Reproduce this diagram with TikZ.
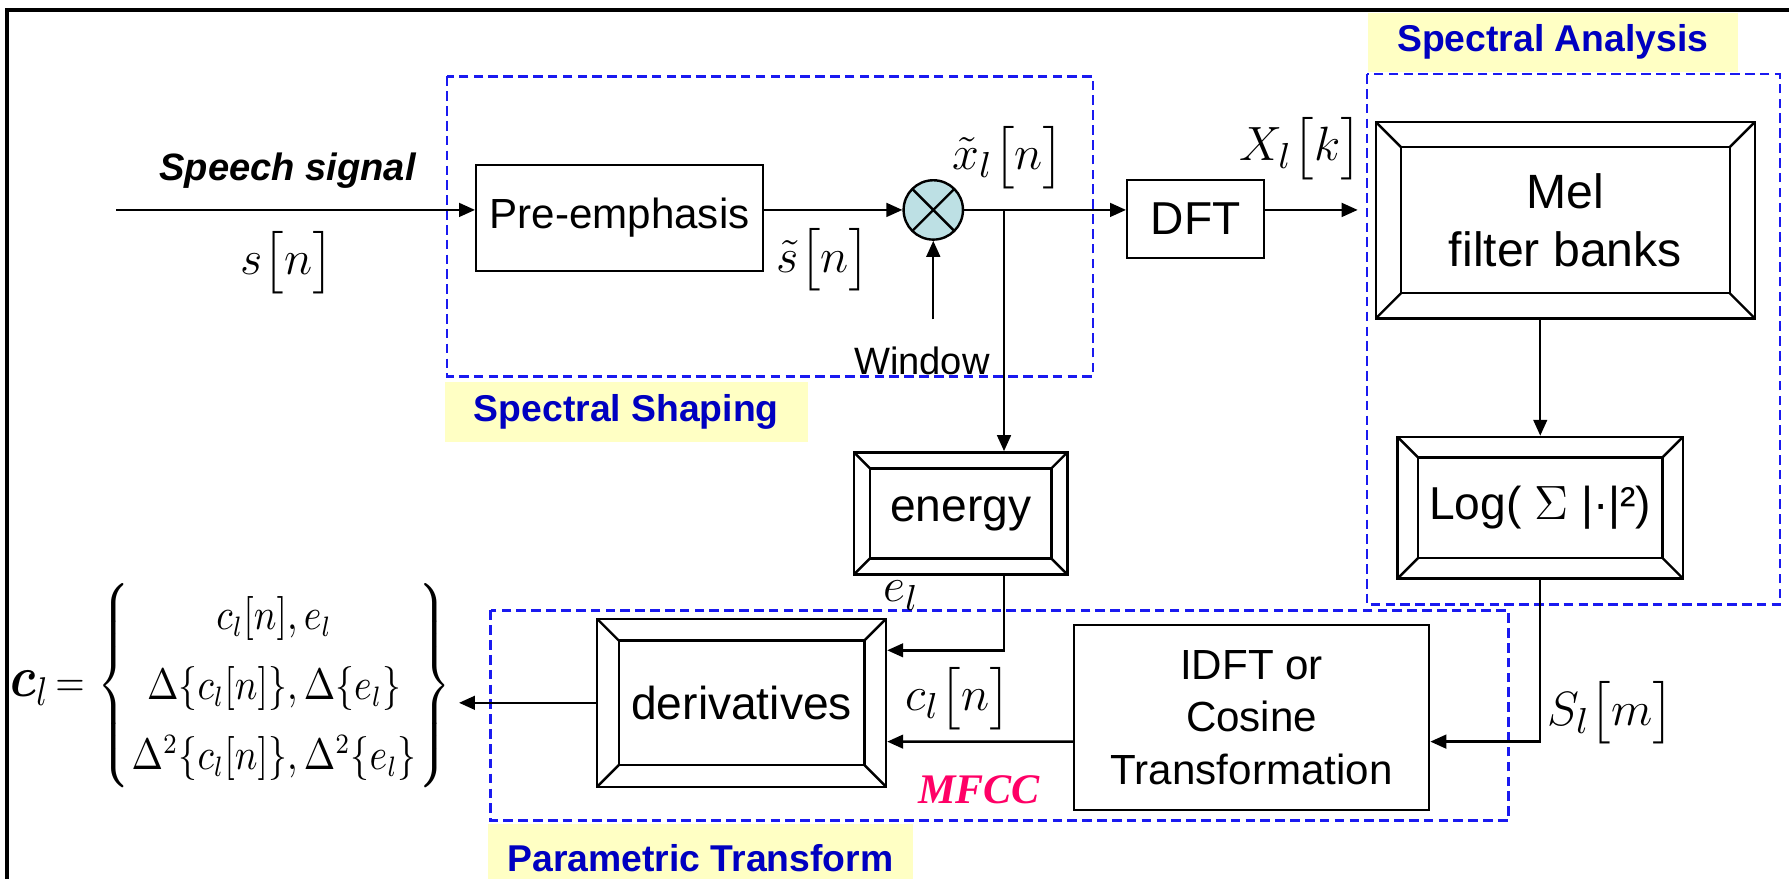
\documentclass[tikz,border=0pt]{standalone}
\usepackage{amsmath,amssymb}
\usepackage{fontspec}
\setmainfont{Liberation Sans}
\newfontfamily\timesfont{Liberation Serif}
\usetikzlibrary{arrows.meta,positioning,calc}
\definecolor{grpblue}{HTML}{1A1AF0}
\definecolor{tagyellow}{HTML}{FFFFC4}
\definecolor{tagtext}{HTML}{0000C0}
\definecolor{mixfill}{HTML}{BDE0E4}
\definecolor{mfccred}{HTML}{FF0066}
\newcommand{\sq}[2]{#1\bigl[#2\bigr]}

\begin{document}
\begin{tikzpicture}[x=0.01cm,y=-0.01cm,
  blockbox/.style={draw,semithick,align=center,font=\fontsize{11.5}{13.5}\selectfont},
  bevel/.style={blockbox,path picture={
      \draw[semithick] ($(path picture bounding box.north west)+(#1,-#1)$) rectangle ($(path picture bounding box.south east)+(-#1,#1)$);
      \draw[semithick] (path picture bounding box.north west) -- ++(#1,-#1);
      \draw[semithick] (path picture bounding box.north east) -- ++(-#1,-#1);
      \draw[semithick] (path picture bounding box.south west) -- ++(#1,#1);
      \draw[semithick] (path picture bounding box.south east) -- ++(-#1,#1);}},
  mixer/.style={circle,draw,semithick,fill=mixfill,minimum size=0.52cm,inner sep=0pt,
    path picture={\draw[semithick] (path picture bounding box.north west) -- (path picture bounding box.south east)
      (path picture bounding box.north east) -- (path picture bounding box.south west);}},
  grpbox/.style={draw=grpblue,semithick,dash pattern=on 2.4pt off 1.3pt},
  tagbox/.style={fill=tagyellow,text=tagtext,font=\bfseries\fontsize{9.3}{11}\selectfont,inner sep=0pt},
  arr/.style={-{Triangle[length=1.4mm,width=1.2mm]},semithick},
  lbl/.style={font=\fontsize{13}{15}\selectfont,inner sep=1pt}
]
\useasboundingbox (0,0) rectangle (1568,770);
\draw[line width=0.9pt] (6,770) -- (6,9) -- (1568,9);

% groups
\draw[grpbox] (392,67) rectangle (958,330);
\draw[grpbox] (1198,65) rectangle (1560,530);
\draw[grpbox] (430,535) rectangle (1322,719);
\node[tagbox,minimum width=3.18cm,minimum height=0.53cm] (shapetag) at (549,361) {Spectral Shaping};
\node[tagbox,minimum width=3.24cm,minimum height=0.52cm] (anatag) at (1361,37) {Spectral Analysis};
\node[tagbox,minimum width=3.72cm,minimum height=0.6cm] (paratag) at (614,752) {Parametric Transform};

% blocks
\node[blockbox,minimum width=2.5cm,minimum height=0.93cm,font=\fontsize{10.5}{12.5}\selectfont] (pre) at (543,191) {Pre-emphasis};
\node[mixer] (mix) at (818,184) {};
\node[blockbox,minimum width=1.2cm,minimum height=0.68cm] (dft) at (1048,192) {DFT};
\node[bevel=2.2mm,minimum width=3.32cm,minimum height=1.72cm,font=\fontsize{12}{14.5}\selectfont] (mel) at (1372,193) {Mel\\filter banks};
\node[bevel=1.8mm,minimum width=2.5cm,minimum height=1.24cm] (logb) at (1350,445) {Log( $\Sigma$ |·|²)};
\node[bevel=1.4mm,minimum width=1.87cm,minimum height=1.07cm] (energy) at (842,450) {energy};
\node[bevel=1.9mm,minimum width=2.53cm,minimum height=1.47cm] (deriv) at (650,616) {derivatives};
\node[blockbox,minimum width=3.11cm,minimum height=1.62cm,font=\fontsize{10.5}{13}\selectfont] (idft) at (1097,629) {IDFT or\\Cosine\\Transformation};
\node[anchor=east,font=\fontsize{10.6}{12}\selectfont,inner sep=0pt] (fml) at (396,601)
  {\scalebox{0.86}[1]{$\renewcommand{\arraystretch}{1.45}\setlength{\arraycolsep}{0.5pt}%
   \mbox{\fontsize{14}{16}\selectfont$\boldsymbol{c}_l$}\,{=}\,\left\{\begin{array}{c}c_l[n],e_l\\ \Delta\{c_l[n]\},\Delta\{e_l\}\\ \Delta^2\{c_l[n]\},\Delta^2\{e_l\}\end{array}\right\}$}};

% labels
\node[font=\bfseries\itshape\fontsize{9.5}{11}\selectfont] (speech) at (252,150) {Speech signal};
\node[lbl] (sn) at (252,230) {$\sq{s}{n}$};
\node[lbl] (stn) at (722,228) {$\sq{\tilde{s}}{n}$};
\node[lbl] (xtn) at (884,138) {$\sq{\tilde{x}_l}{n}$};
\node[lbl] (xk) at (1140,130) {$\sq{X_l}{k}$};
\node[font=\fontsize{9.5}{11}\selectfont] (wintxt) at (808,316) {Window};
\node[lbl] (el) at (790,522) {$e_l$};
\node[lbl] (cn) at (840,612) {$\sq{c_l}{n}$};
\node[font=\timesfont\bfseries\itshape\fontsize{10.5}{12}\selectfont,text=mfccred] (mfcc) at (858,692) {MFCC};
\node[lbl] (smn) at (1412,625) {$\sq{S_l}{m}$};

% connectors
\coordinate (sin) at (102,184);
\coordinate (br) at (880,184);
\coordinate (xout) at (1190,184);
\coordinate (winsrc) at (818,280);
\draw[arr] (sin) -- (sin -| pre.west);
\draw[arr] (pre.east |- mix) -- (mix.west);
\draw[arr] (winsrc) -- (mix.south);
\draw[arr] (mix.east) -- (mix -| dft.west);
\draw[arr] (br) -- (br |- energy.north);
\draw[arr] (dft.east |- xout) -- (xout);
\draw[arr] (mel.south -| logb.north) -- (logb.north);
\draw[arr] (logb.south) |- ([yshift=-2.1mm]idft.east);
\draw[arr] ([yshift=-2.1mm]idft.west) -- ([yshift=-3.4mm]deriv.east);
\draw[arr] (energy.south -| br) |- ([yshift=4.6mm]deriv.east);
\draw[arr] (deriv.west) -- ++(-1.2cm,0);
\end{tikzpicture}
\end{document}
